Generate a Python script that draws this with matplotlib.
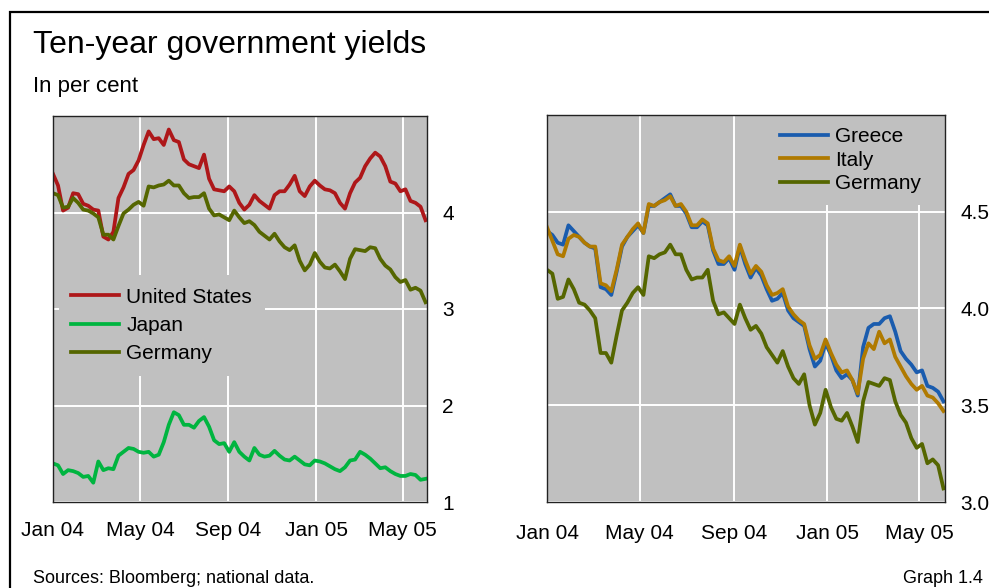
import pandas as pd
import matplotlib
matplotlib.use("Agg")
import matplotlib.pyplot as plt
import matplotlib.dates as mdates
from matplotlib.patches import Rectangle

plt.rcParams['font.family'] = ['Liberation Sans', 'DejaVu Sans']

# weekly observations, Jan 2004 - early Jun 2005
dates = pd.date_range('2004-01-01', periods=75, freq='7D')

united_states = [4.40, 4.28, 4.02, 4.05, 4.20, 4.19, 4.09, 4.07, 4.03, 4.02,
                 3.75, 3.72, 3.80, 4.15, 4.26, 4.40, 4.44, 4.54, 4.70, 4.84,
                 4.76, 4.77, 4.70, 4.86, 4.75, 4.73, 4.55, 4.50, 4.48, 4.46,
                 4.60, 4.35, 4.24, 4.23, 4.22, 4.27, 4.22, 4.10, 4.03, 4.08,
                 4.18, 4.12, 4.08, 4.04, 4.18, 4.22, 4.22, 4.29, 4.38, 4.22,
                 4.17, 4.27, 4.33, 4.28, 4.24, 4.23, 4.20, 4.10, 4.04, 4.20,
                 4.31, 4.36, 4.48, 4.56, 4.62, 4.58, 4.48, 4.32, 4.30, 4.22,
                 4.24, 4.12, 4.10, 4.06, 3.92]

japan = [1.40, 1.38, 1.29, 1.33, 1.32, 1.30, 1.26, 1.27, 1.20, 1.42,
         1.33, 1.35, 1.34, 1.48, 1.52, 1.56, 1.55, 1.52, 1.51, 1.52,
         1.47, 1.49, 1.62, 1.80, 1.93, 1.90, 1.80, 1.80, 1.77, 1.84,
         1.88, 1.78, 1.64, 1.60, 1.61, 1.52, 1.62, 1.52, 1.47, 1.43,
         1.56, 1.49, 1.47, 1.48, 1.53, 1.48, 1.44, 1.43, 1.47, 1.43,
         1.39, 1.38, 1.43, 1.42, 1.40, 1.37, 1.34, 1.32, 1.36, 1.43,
         1.44, 1.52, 1.49, 1.45, 1.40, 1.35, 1.36, 1.32, 1.29, 1.27,
         1.27, 1.29, 1.28, 1.23, 1.24]

germany = [4.20, 4.18, 4.05, 4.06, 4.15, 4.10, 4.03, 4.02, 3.99, 3.95,
           3.77, 3.77, 3.72, 3.86, 3.99, 4.03, 4.08, 4.11, 4.07, 4.27,
           4.26, 4.28, 4.29, 4.33, 4.28, 4.28, 4.20, 4.15, 4.16, 4.16,
           4.20, 4.04, 3.97, 3.98, 3.95, 3.92, 4.02, 3.95, 3.89, 3.91,
           3.87, 3.80, 3.76, 3.72, 3.78, 3.70, 3.64, 3.61, 3.66, 3.50,
           3.40, 3.46, 3.58, 3.49, 3.43, 3.42, 3.46, 3.39, 3.31, 3.52,
           3.62, 3.61, 3.60, 3.64, 3.63, 3.52, 3.45, 3.41, 3.33, 3.28,
           3.30, 3.20, 3.22, 3.19, 3.07]

greece = [4.40, 4.38, 4.34, 4.33, 4.43, 4.40, 4.37, 4.34, 4.32, 4.31,
          4.11, 4.10, 4.07, 4.19, 4.32, 4.37, 4.40, 4.43, 4.39, 4.53,
          4.53, 4.55, 4.57, 4.59, 4.53, 4.53, 4.49, 4.42, 4.42, 4.45,
          4.43, 4.30, 4.23, 4.23, 4.26, 4.20, 4.32, 4.23, 4.16, 4.21,
          4.17, 4.10, 4.04, 4.05, 4.08, 3.99, 3.95, 3.93, 3.91, 3.79,
          3.70, 3.73, 3.82, 3.76, 3.68, 3.64, 3.66, 3.63, 3.55, 3.80,
          3.90, 3.92, 3.92, 3.95, 3.96, 3.88, 3.78, 3.74, 3.71, 3.67,
          3.68, 3.60, 3.59, 3.57, 3.52]

italy = [4.42, 4.35, 4.28, 4.27, 4.36, 4.38, 4.37, 4.34, 4.32, 4.32,
         4.13, 4.12, 4.09, 4.20, 4.33, 4.37, 4.41, 4.44, 4.39, 4.54,
         4.53, 4.55, 4.56, 4.58, 4.53, 4.54, 4.50, 4.43, 4.43, 4.46,
         4.44, 4.31, 4.25, 4.24, 4.27, 4.22, 4.33, 4.25, 4.18, 4.22,
         4.19, 4.12, 4.07, 4.08, 4.10, 4.01, 3.97, 3.94, 3.92, 3.81,
         3.74, 3.76, 3.84, 3.77, 3.71, 3.67, 3.68, 3.63, 3.56, 3.74,
         3.82, 3.79, 3.88, 3.82, 3.84, 3.75, 3.70, 3.65, 3.61, 3.58,
         3.60, 3.55, 3.54, 3.51, 3.47]

left_ticks = [1, 2, 3, 4]
right_ticks = [3.0, 3.5, 4.0, 4.5]

RED = '#AE1719'
GREEN = '#00B540'
OLIVE = '#556600'
BLUE = '#1A5CAE'
GOLD = '#B07A00'
PANEL = '#C0C0C0'
LW = 2.7

fig = plt.figure(figsize=(9.89, 5.88), dpi=100)
fig.add_artist(Rectangle((9.5 / 989, -0.1), 1.2, 1.1 - 12.5 / 588,
                         transform=fig.transFigure, fill=False,
                         ec='black', lw=1.6, clip_on=False))

fig.text(33 / 989, 1 - 53 / 588, 'Ten-year government yields',
         fontsize=23, va='baseline')
fig.text(33 / 989, 1 - 92 / 588, 'In per cent', fontsize=16, va='baseline')
fig.text(33 / 989, 1 - 583 / 588, 'Sources: Bloomberg; national data.',
         fontsize=13, va='baseline')
fig.text(983 / 989, 1 - 583 / 588, 'Graph 1.4', fontsize=13,
         va='baseline', ha='right')

ax1 = fig.add_axes([53 / 989, 86 / 588, 374 / 989, 386 / 588])
ax2 = fig.add_axes([547 / 989, 86 / 588, 398 / 989, 387 / 588])


def style(ax, ticks, fmt, xpad):
    ax.set_facecolor(PANEL)
    ax.grid(True, color='white', lw=1.4)
    ax.set_axisbelow(True)
    ax.set_xlim(pd.Timestamp('2004-01-01'), pd.Timestamp('2005-06-04'))
    ax.xaxis.set_major_locator(mdates.MonthLocator(bymonth=[1, 5, 9]))
    ax.xaxis.set_major_formatter(mdates.DateFormatter('%b %y'))
    ax.yaxis.tick_right()
    ax.set_yticks(ticks)
    ax.set_yticklabels([fmt.format(t) for t in ticks])
    ax.tick_params(axis='both', length=0, labelsize=15)
    ax.tick_params(axis='x', pad=xpad)
    ax.tick_params(axis='y', pad=11)
    for s in ax.spines.values():
        s.set_color('#222222')
        s.set_linewidth(1.0)
        s.set_zorder(6)


legend_style = dict(loc='upper left', borderaxespad=0, borderpad=0.6,
                    fontsize=15, frameon=True, facecolor=PANEL,
                    edgecolor='none', framealpha=1, fancybox=False,
                    handlelength=2.3, handletextpad=0.35)

style(ax1, left_ticks, '{:.0f}', 14)
ax1.set_ylim(1, 5)
ax1.plot(dates, united_states, color=RED, lw=LW, label='United States')
ax1.plot(dates, japan, color=GREEN, lw=LW, label='Japan')
ax1.plot(dates, germany, color=OLIVE, lw=LW, label='Germany')
ax1.legend(bbox_to_anchor=(0.015, 0.588), labelspacing=0.45, **legend_style)

style(ax2, right_ticks, '{:.1f}', 16)
ax2.set_ylim(3, 5)
ax2.plot(dates, greece, color=BLUE, lw=LW, label='Greece')
ax2.plot(dates, italy, color=GOLD, lw=LW, label='Italy')
ax2.plot(dates, germany, color=OLIVE, lw=LW, label='Germany')
ax2.legend(bbox_to_anchor=(0.554, 1.0), labelspacing=0.2, **legend_style)

fig.savefig('out.png', dpi=100)
